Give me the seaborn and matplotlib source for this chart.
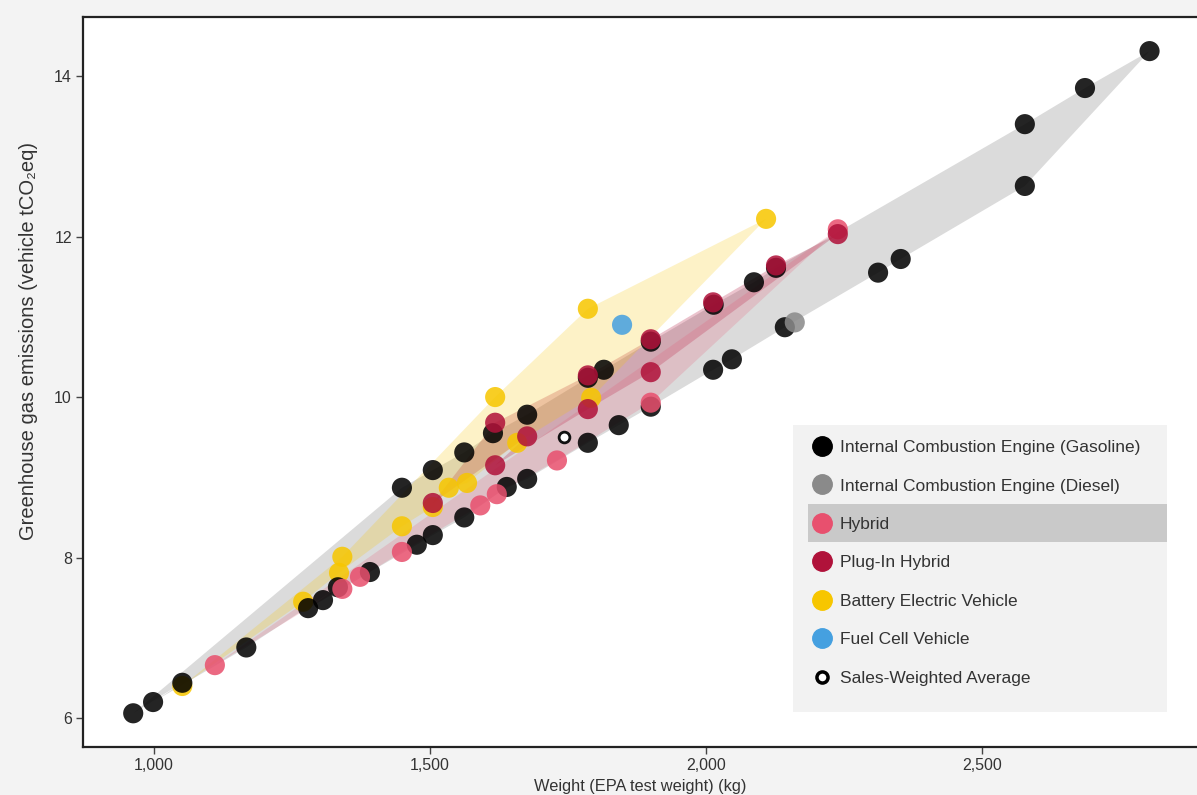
import numpy as np
import pandas as pd
import matplotlib
matplotlib.use('Agg')
import matplotlib.pyplot as plt
from matplotlib.lines import Line2D
from matplotlib.patches import Rectangle
from matplotlib.ticker import FuncFormatter
import seaborn as sns

# values: EPA test weight (kg) vs lifetime GHG (tCO2eq)
gas_weight = [962, 998, 1051, 1167, 1279, 1306, 1333, 1391, 1449, 1476, 1505, 1505,
              1562, 1562, 1614, 1639, 1676, 1676, 1786, 1815, 1786, 1842, 1900, 1900,
              2013, 2047, 2014, 2087, 2127, 2143, 2312, 2353, 2578, 2578, 2687, 2804]
gas_ghg = [6.06, 6.20, 6.44, 6.88, 7.37, 7.47, 7.63, 7.82, 8.87, 8.16, 8.28, 9.09,
           9.31, 8.50, 9.55, 8.88, 8.98, 9.78, 10.24, 10.34, 9.43, 9.65, 10.69, 9.88,
           10.34, 10.47, 11.15, 11.43, 11.61, 10.87, 11.55, 11.72, 13.40, 12.63, 13.85, 14.31]

diesel_weight = [2161]
diesel_ghg = [10.93]

hybrid_weight = [1110, 1341, 1373, 1449, 1591, 1621, 1730, 1900, 2239]
hybrid_ghg = [6.66, 7.61, 7.76, 8.07, 8.65, 8.79, 9.21, 9.93, 12.09]

phev_weight = [1505, 1618, 1618, 1676, 1786, 1786, 1900, 1900, 2013, 2127, 2239]
phev_ghg = [8.68, 9.15, 9.68, 9.51, 9.85, 10.27, 10.31, 10.72, 11.18, 11.64, 12.03]

bev_weight = [1051, 1270, 1335, 1341, 1449, 1505, 1534, 1567, 1618, 1658, 1792, 1786, 2109]
bev_ghg = [6.40, 7.45, 7.81, 8.01, 8.39, 8.63, 8.87, 8.93, 10.00, 9.43, 9.99, 11.10, 12.22]

fcv_weight = [1848]
fcv_ghg = [10.90]

avg_weight = [1743]
avg_ghg = [9.50]

labels = ['Internal Combustion Engine (Gasoline)', 'Internal Combustion Engine (Diesel)',
          'Hybrid', 'Plug-In Hybrid', 'Battery Electric Vehicle', 'Fuel Cell Vehicle']
colors = ['#000000', '#8a8a8a', '#e8506e', '#b0123a', '#f7c600', '#45a0e0']
palette = dict(zip(labels, colors))

series = {
    labels[0]: (gas_weight, gas_ghg),
    labels[1]: (diesel_weight, diesel_ghg),
    labels[2]: (hybrid_weight, hybrid_ghg),
    labels[3]: (phev_weight, phev_ghg),
    labels[4]: (bev_weight, bev_ghg),
    labels[5]: (fcv_weight, fcv_ghg),
}
df = pd.concat([pd.DataFrame({'weight': w, 'ghg': g, 'type': t}) for t, (w, g) in series.items()],
               ignore_index=True)

sns.set_theme(style='white')
plt.rcParams['font.family'] = ['Liberation Sans', 'DejaVu Sans']

fig = plt.figure(figsize=(11.97, 7.95), dpi=100)
fig.patch.set_facecolor('#f3f3f3')
ax = fig.add_axes([83 / 1197, 1 - 747 / 795, 1 - 83 / 1197, 730 / 795])
ax.set_facecolor('white')
ax.set_xlim(871, 2890)
ax.set_ylim(5.64, 14.735)

# shaded envelope per type: outline the points by angle around their centre (screen space)
fill_alpha = {labels[0]: 0.3, labels[2]: 0.2, labels[3]: 0.25, labels[4]: 0.22}
fill_col = {labels[0]: '#888888', labels[2]: colors[2], labels[3]: colors[3], labels[4]: colors[4]}
for t in [labels[0], labels[3], labels[2], labels[4]]:
    d = df[df['type'] == t]
    pts = ax.transData.transform(d[['weight', 'ghg']].to_numpy())
    ctr = pts.mean(axis=0)
    ang = np.arctan2(pts[:, 1] - ctr[1], pts[:, 0] - ctr[0])
    d = d.iloc[np.argsort(ang)]
    ax.fill(d['weight'], d['ghg'], color=fill_col[t], alpha=fill_alpha[t], lw=0, zorder=1)

order = [labels[4], labels[0], labels[2], labels[3], labels[1], labels[5]]
df_draw = pd.concat([df[df['type'] == t] for t in order])
sns.scatterplot(data=df_draw, x='weight', y='ghg', hue='type', palette=palette, s=210,
                alpha=0.86, linewidth=0, legend=False, ax=ax, zorder=3)
ax.scatter(avg_weight, avg_ghg, s=60, facecolor='white', edgecolor='#111111', linewidth=2, zorder=4)

ax.set_xticks([1000, 1500, 2000, 2500])
ax.set_yticks([6, 8, 10, 12, 14])
ax.xaxis.set_major_formatter(FuncFormatter(lambda v, p: f'{v:,.0f}'))
ax.tick_params(bottom=True, left=True, direction='out', length=5, width=1, color='#444444',
               labelsize=11.5, labelcolor='#333333', pad=3)
for side in ['top', 'left', 'bottom']:
    ax.spines[side].set_visible(True)
    ax.spines[side].set_color('#222222')
    ax.spines[side].set_linewidth(1.6)
ax.spines['right'].set_visible(False)

ax.set_xlabel('Weight (EPA test weight) (kg)', fontsize=11.8, color='#333333')
ax.set_ylabel('Greenhouse gas emissions (vehicle tCO\u2082eq)', fontsize=14.5, color='#333333')
ax.yaxis.set_label_coords(-0.04, 0.556)

# legend panel with highlighted "Hybrid" row
fig.add_artist(Rectangle((793 / 1197, 1 - 712 / 795), 374 / 1197, 287 / 795,
                         transform=fig.transFigure, facecolor='#f2f2f2', edgecolor='none', zorder=2))
fig.add_artist(Rectangle((808 / 1197, 1 - 542 / 795), 359 / 1197, 38 / 795,
                         transform=fig.transFigure, facecolor='#c9c9c9', edgecolor='none', zorder=3))

handles = [Line2D([], [], marker='o', linestyle='', markersize=14,
                  markerfacecolor=c, markeredgecolor=c) for c in colors]
handles.append(Line2D([], [], marker='o', linestyle='', markersize=8,
                      markerfacecolor='white', markeredgecolor='black', markeredgewidth=2.5))
leg_labels = labels + ['Sales-Weighted Average']
fig.legend(handles, leg_labels, loc='upper left', bbox_to_anchor=(811.6 / 1197, 1 - 440 / 795),
           frameon=False, fontsize=12.5, handlelength=1.2, handletextpad=0.44,
           labelspacing=1.34, borderpad=0, borderaxespad=0, labelcolor='#333333')

fig.savefig('out.png', dpi=100, facecolor=fig.get_facecolor())
